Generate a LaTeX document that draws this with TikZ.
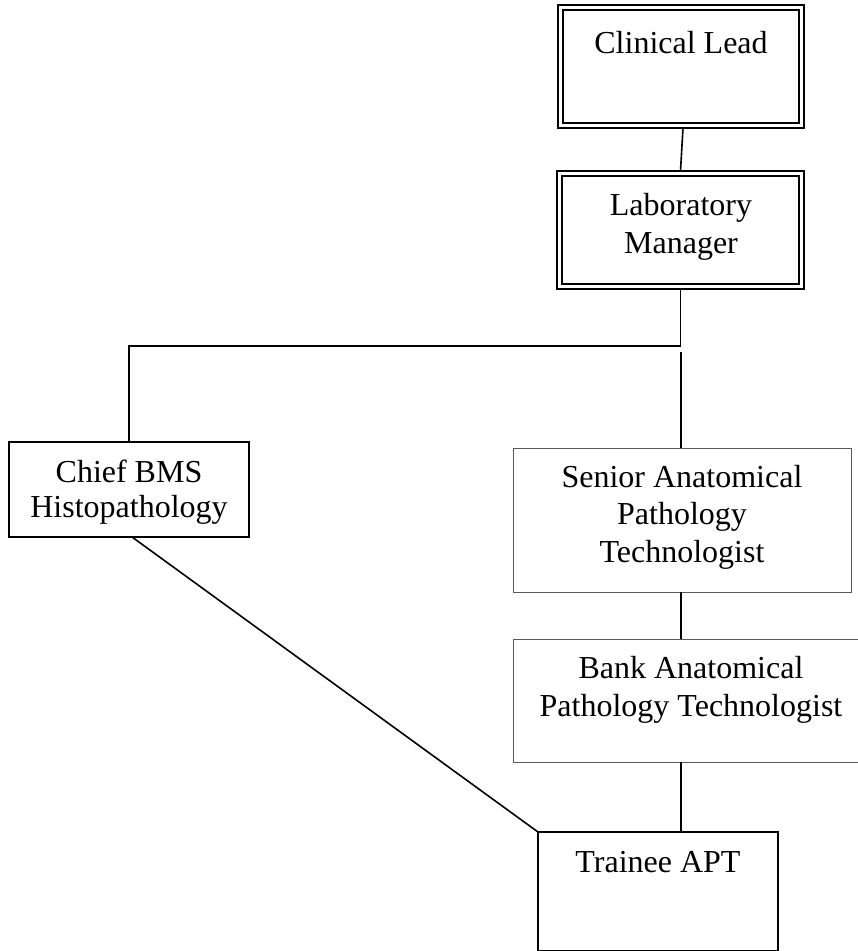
\documentclass[tikz,border=0pt]{standalone}
\usepackage{fontspec}
\setmainfont{Liberation Serif}
\begin{document}
\begin{tikzpicture}[x=1pt,y=-1pt,
  box/.style={draw, rectangle, inner sep=0pt, outer sep=0pt},
  thinbox/.style={box, draw=black!65, line width=1pt},
  plainbox/.style={box, line width=2pt},
  heavybox/.style={box, line width=2.8pt},
  dblouter/.style={box, line width=1.5pt},
  dblinner/.style={line width=2.4pt},
  lbl/.style={font=\fontsize{32}{38}\selectfont, inner sep=0pt, align=center, anchor=north},
  link/.style={line width=1.6pt}]

\useasboundingbox (0,0) rectangle (858,951);

% boxes
\node[dblouter, minimum width=246pt, minimum height=123pt] (cl) at (681,66.5) {};
\draw[dblinner] ([xshift=5pt,yshift=-5pt]cl.north west) rectangle ([xshift=-5pt,yshift=5pt]cl.south east);
\node[dblouter, minimum width=247pt, minimum height=118pt] (lm) at (680.5,230) {};
\draw[dblinner] ([xshift=5pt,yshift=-5pt]lm.north west) rectangle ([xshift=-5pt,yshift=5pt]lm.south east);
\node[plainbox, minimum width=240pt, minimum height=95pt] (chief) at (129,489.5) {};
\node[thinbox, minimum width=338pt, minimum height=144pt] (senior) at (682,520) {};
\node[thinbox, minimum width=356pt, minimum height=123pt] (bank) at (691,700.5) {};
\node[heavybox, minimum width=240pt, minimum height=119pt] (trainee) at (658,891.5) {};

% texts
\node[lbl] (clT) at (681,29) {\rule{0pt}{24pt}Clinical Lead};
\node[lbl] (lmT) at (681,191) {\rule{0pt}{24pt}Laboratory\\Manager};
\node[lbl, font=\fontsize{32}{35}\selectfont] (chiefT) at (129,458) {\rule{0pt}{24pt}Chief BMS\\Histopathology};
\node[lbl, font=\fontsize{32}{37.5}\selectfont] (seniorT) at (682,463) {\rule{0pt}{24pt}Senior Anatomical\\Pathology\\Technologist};
\node[lbl] (bankT) at (691,654) {\rule{0pt}{24pt}Bank Anatomical\\Pathology Technologist};
\node[lbl] (trainT) at (658,848) {\rule{0pt}{24pt}Trainee APT};

% connectors
\coordinate (j2) at (129,346);
\coordinate (j3) at (681,352);
\draw[link] ([xshift=2pt]cl.south) -- (lm.north);
\draw[link] (lm.south) |- (j2) -- (chief.north);
\draw[link] (j3) -- (j3 |- senior.north);
\draw[link] (senior.south -| j3) -- (bank.north -| j3);
\draw[link] (bank.south -| j3) -- (trainee.north -| j3);
\draw[link] ([xshift=3pt]chief.south) -- (trainee.north west);
\end{tikzpicture}
\end{document}
